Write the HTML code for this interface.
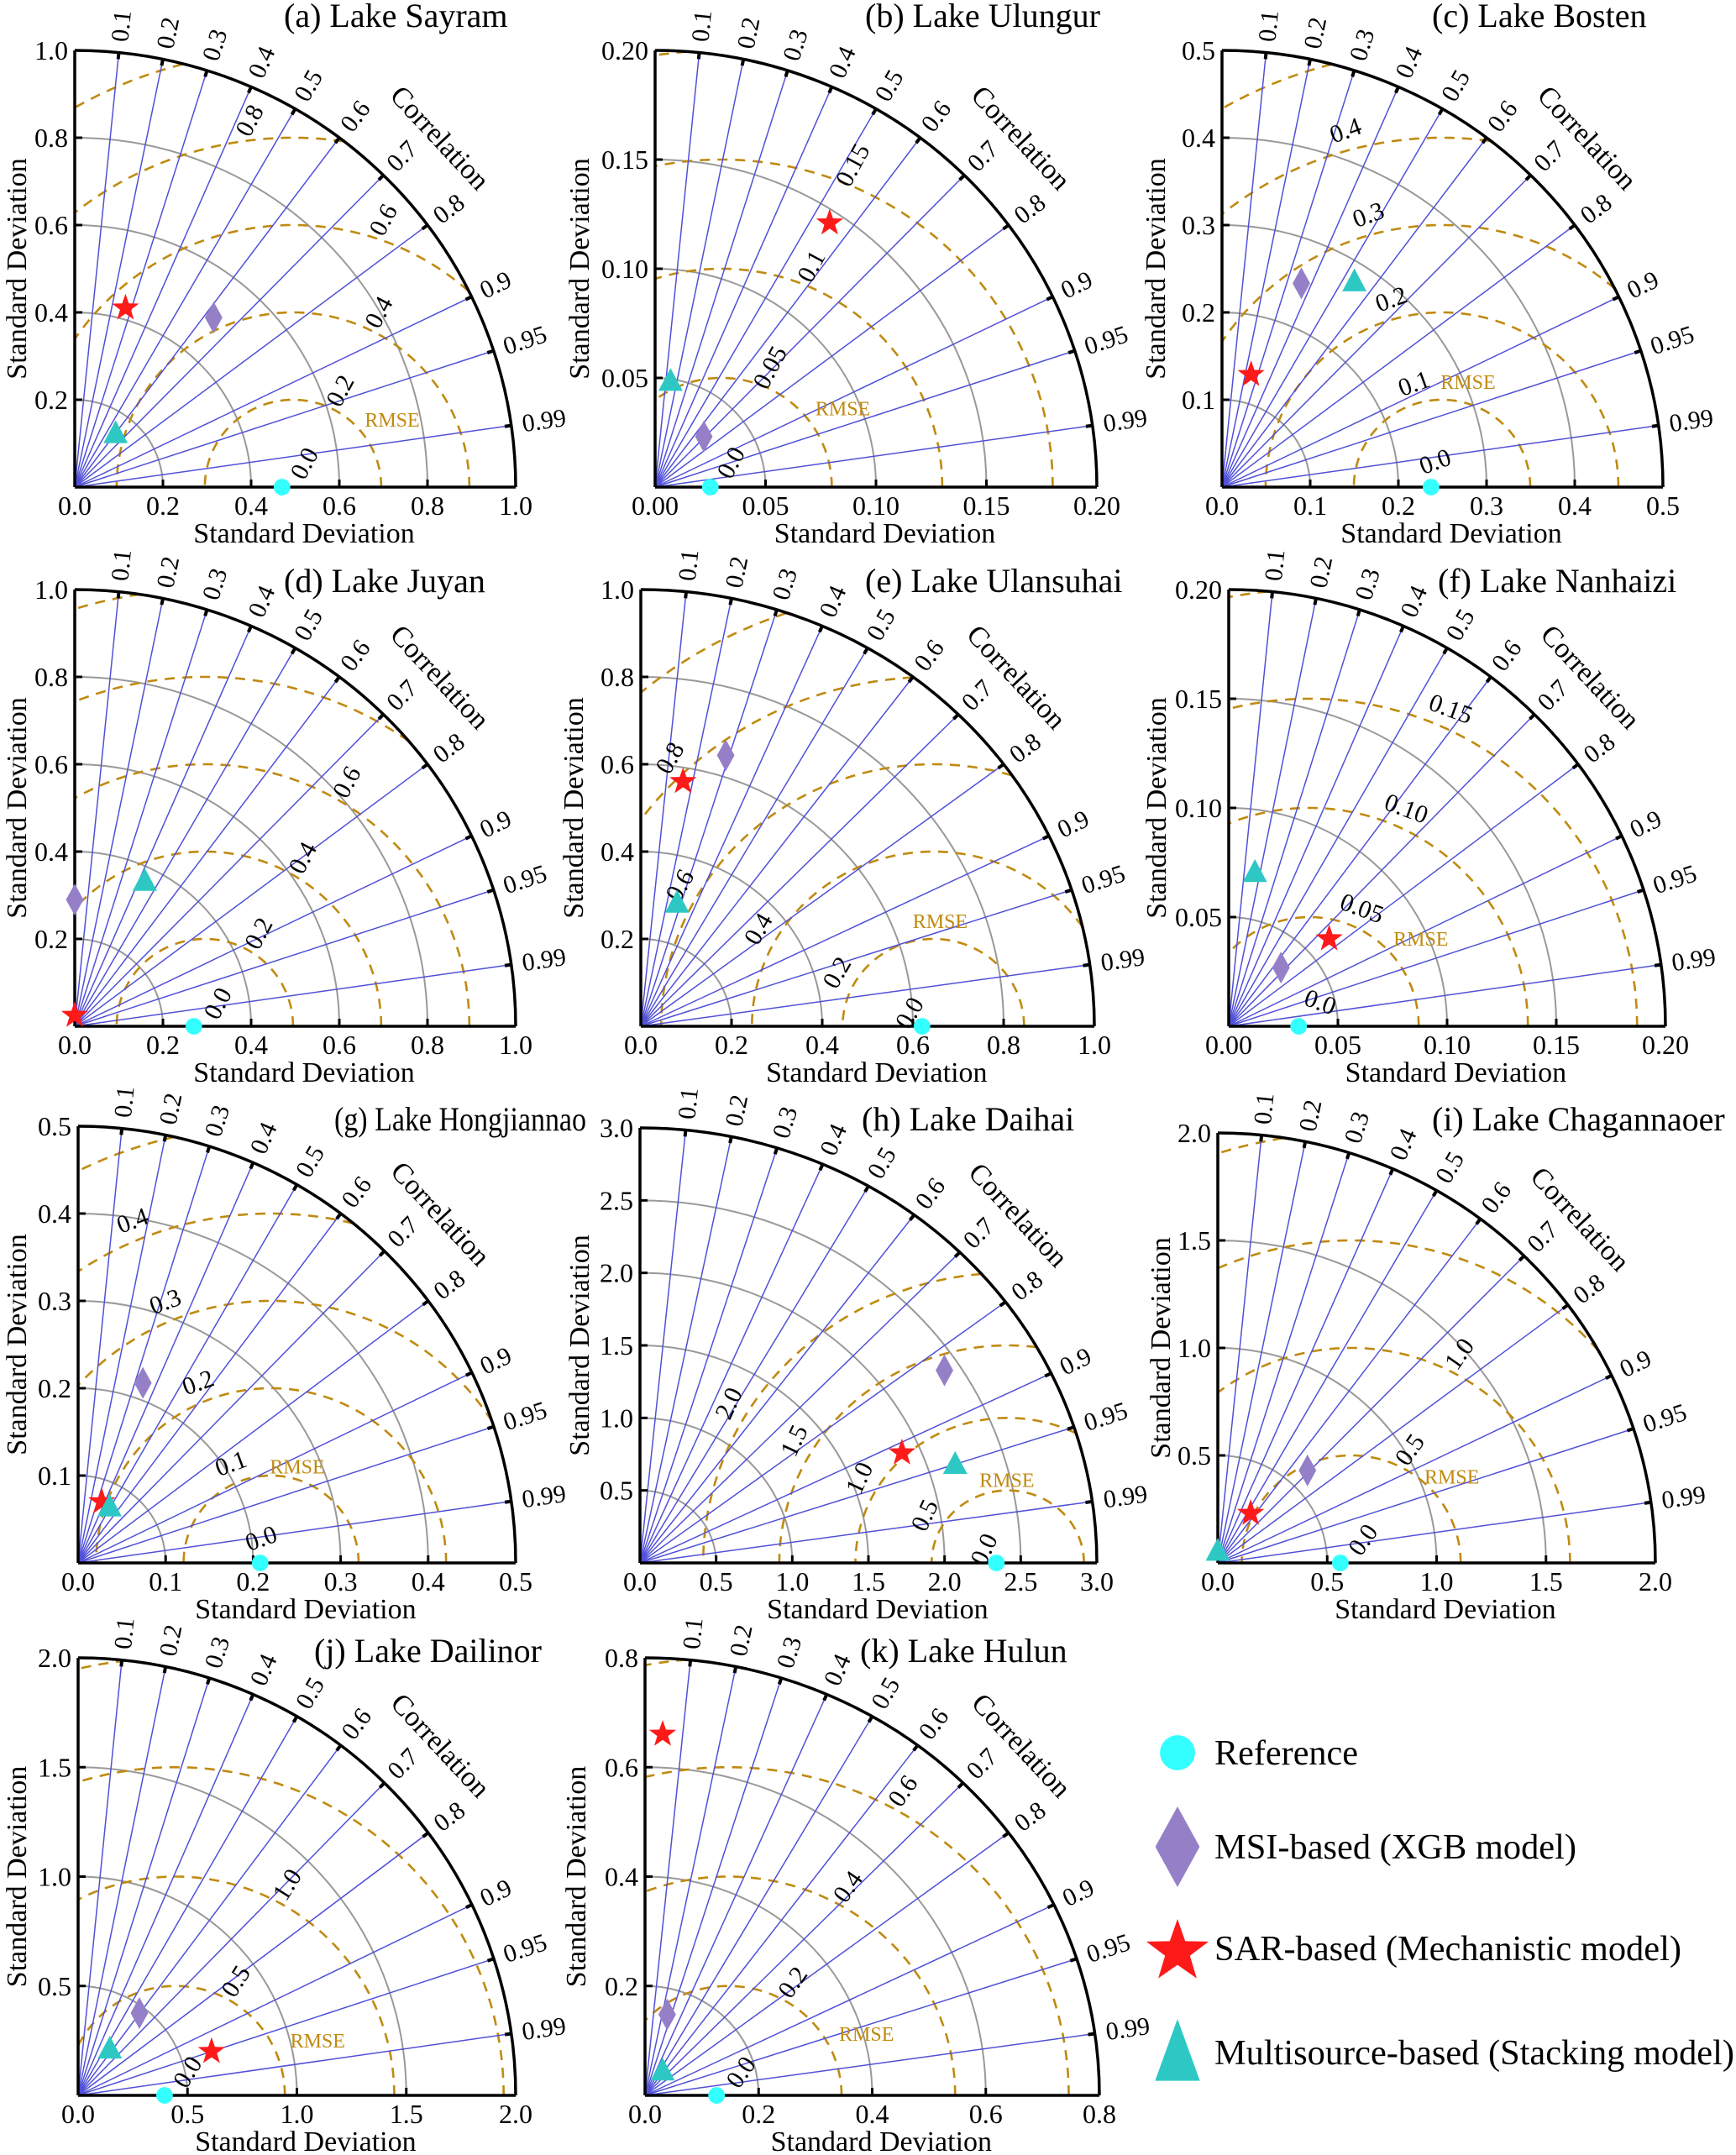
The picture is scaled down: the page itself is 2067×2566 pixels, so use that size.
<!DOCTYPE html>
<html><head><meta charset="utf-8">
<style>
html,body{margin:0;padding:0;background:#fff;}
svg{display:block;font-family:"Liberation Serif",serif;}
</style></head>
<body>
<svg id="fig" width="2067" height="2566" viewBox="0 0 2067 2566" xmlns="http://www.w3.org/2000/svg"></svg>
<script>
// ---- data (per panel) ----
const panelTitles = ["(a) Lake Sayram","(b) Lake Ulungur","(c) Lake Bosten","(d) Lake Juyan","(e) Lake Ulansuhai","(f) Lake Nanhaizi","(g) Lake Hongjiannao","(h) Lake Daihai","(i) Lake Chagannaoer","(j) Lake Dailinor","(k) Lake Hulun"];
const refStd   = [0.47, 0.025, 0.237, 0.27, 0.62, 0.032, 0.208, 2.34, 0.56, 0.395, 0.126];
const msiStd   = [0.50, 0.032, 0.25, 0.29, 0.648, 0.036, 0.219, 2.40, 0.594, 0.469, 0.153];
const msiCorr  = [0.63, 0.69, 0.36, 0.0, 0.289, 0.665, 0.338, 0.833, 0.69, 0.597, 0.255];
const sarStd   = [0.426, 0.1445, 0.133, 0.025, 0.568, 0.061, 0.075, 1.88, 0.275, 0.642, 0.661];
const sarCorr  = [0.27, 0.547, 0.248, 0.0, 0.164, 0.754, 0.36, 0.915, 0.546, 0.95, 0.047];
const stkStd   = [0.152, 0.0485, 0.278, 0.366, 0.291, 0.071, 0.0726, 2.176, 0.05, 0.253, 0.053];
const stkCorr  = [0.61, 0.144, 0.54, 0.434, 0.275, 0.169, 0.496, 0.951, 0.0, 0.573, 0.585];
const axisMax  = [1.0, 0.20, 0.5, 1.0, 1.0, 0.20, 0.5, 3.0, 2.0, 2.0, 0.8];
const tickStep = [0.2, 0.05, 0.1, 0.2, 0.2, 0.05, 0.1, 0.5, 0.5, 0.5, 0.2];
const tickDec  = [1, 2, 1, 1, 1, 2, 1, 1, 1, 1, 1];
const rmseMaxK = [5, 4, 5, 5, 6, 4, 5, 4, 4, 4, 5];
const rmseLabels = [["0.0","0.2","0.4","0.6","0.8"],["0.0","0.05","0.1","0.15"],["0.0","0.1","0.2","0.3","0.4"],["0.0","0.2","0.4","0.6"],["0.0","0.2","0.4","0.6","0.8"],["0.0","0.05","0.10","0.15"],["0.0","0.1","0.2","0.3","0.4"],["0.0","0.5","1.0","1.5","2.0"],["0.0","0.5","1.0"],["0.0","0.5","1.0"],["0.0","0.2","0.4","0.6"]];
const corrTicks = [0.1,0.2,0.3,0.4,0.5,0.6,0.7,0.8,0.9,0.95,0.99];
const legendLabels = ["Reference","MSI-based (XGB model)","SAR-based (Mechanistic model)","Multisource-based (Stacking model)"];

// ---- layout ----
const origins = [[89,580,525,520],[780,580,526,520],[1455,580,525,520],[89,1222,525,520],[763,1222,540,520],[1463,1222,520,520],[93,1861,521,520],[762,1861,544,518],[1450,1861,521,512],[93,2495,521,521],[768,2495,541,521]];
const titleX = [338,1030,1705,338,1030,1712,398,1026,1705,374,1024];
const titleY = [32,32,32,705,705,705,1346,1346,1346,1979,1979];
const titleW = [null,null,null,null,null,null,300,null,null,null,null];
const yTitleOff = [58,79,68,58,69,75,62,61,57,62,71];
const lblAng = [64,68,105,60,150,66,112,149,63,62,61];
const lblRot = [-62,-62,-20,-62,-60,20,-20,-65,-55,-58,-55];
const rmseLblDx = [0.25,0.3,0.084,null,0.04,0.28,0.085,0.023,0.255,0.35,0.33];
const rmseLblDy = [0.154,0.18,0.24,null,0.24,0.2,0.22,0.19,0.2,0.125,0.14];

const NS="http://www.w3.org/2000/svg";
const svg=document.getElementById('fig');
function mk(tag,attrs,parent,txt){const e=document.createElementNS(NS,tag);for(const k in attrs)e.setAttribute(k,attrs[k]);if(txt!==undefined)e.textContent=txt;(parent||svg).appendChild(e);return e;}

const C_REF="#33ffff",C_MSI="#9580c8",C_SAR="#ff1a1a",C_STK="#2ec8c4",C_RM="#c08a10",C_COR="#5050d8";

function marker(g,type,x,y,s,tw){
  let e;
  if(type==="ref"){e=mk('circle',{cx:x,cy:y,r:s*0.55,fill:C_REF},g);}
  else if(type==="msi"){e=mk('polygon',{points:`${x},${y-s} ${x+s*0.55},${y} ${x},${y+s} ${x-s*0.55},${y}`,fill:C_MSI},g);}
  else if(type==="sar"){let p=[];for(let i=0;i<10;i++){const r=i%2?s*0.4:s;const a=-Math.PI/2+i*Math.PI/5;p.push((x+r*Math.cos(a)).toFixed(1)+","+(y+r*Math.sin(a)).toFixed(1));}e=mk('polygon',{points:p.join(' '),fill:C_SAR},g);}
  else {const w=tw||0.85;e=mk('polygon',{points:`${x},${y-s} ${x+s*w},${y+s*0.6} ${x-s*w},${y+s*0.6}`,fill:C_STK},g);}
  return e;
}

panelTitles.forEach((title,i)=>{
  const [ox,oy,rx,ry]=origins[i];
  const M=axisMax[i], ref=refStd[i];
  const cen=ref+0.025*M;
  const X=v=>ox+v/M*rx, Y=v=>oy-v/M*ry;
  const P=(x,y)=>[X(x),Y(y)];
  const g=mk('g',{});
  
  
  const nT=Math.round(M/tickStep[i]);
  for(let k=1;k<nT;k++){
    const r=k*tickStep[i];
    const a=mk('path',{d:`M${X(r)},${oy} A${r/M*rx},${r/M*ry} 0 0 0 ${ox},${Y(r)}`,fill:'none',stroke:'#999',"stroke-width":2},g);
    
    
  }
  const rstep=tickStep[i];
  for(let k=1;k<=rmseMaxK[i];k++){
    const r=k*rstep;let pts=[];let segs=[];
    for(let t=0;t<=720;t++){
      const th=Math.PI*t/720;const x=cen+r*Math.cos(th),y=r*Math.sin(th);
      if(x>=0&&Math.hypot(x,y)<=M){pts.push(P(x,y).map(v=>v.toFixed(1)).join(','));}
      else if(pts.length){segs.push(pts);pts=[];}
    }
    if(pts.length)segs.push(pts);
    segs.forEach(s=>{const l=mk('polyline',{points:s.join(' '),fill:'none',stroke:C_RM,"stroke-width":2.6,"stroke-dasharray":"12,9"},g);
      
      });
  }
  corrTicks.forEach(c=>{
    const th=Math.acos(c);
    const l=mk('line',{x1:ox,y1:oy,x2:X(M*Math.cos(th)),y2:Y(M*Math.sin(th)),stroke:C_COR,"stroke-width":1.5},g);
    
    
    mk('line',{x1:X(M*Math.cos(th)),y1:Y(M*Math.sin(th)),x2:X(0.985*M*Math.cos(th)),y2:Y(0.985*M*Math.sin(th)),stroke:'#000',"stroke-width":4},g);
    const lx=X(1.025*M*Math.cos(th)),ly=Y(1.025*M*Math.sin(th));
    const deg=th*180/Math.PI;
    const t=mk('text',{x:lx,y:ly,"font-size":30,transform:`rotate(${-deg} ${lx} ${ly})`,"dominant-baseline":"central"},g,String(c));
    
    
  });
  const oa=mk('path',{d:`M${X(M)},${oy} A${rx},${ry} 0 0 0 ${ox},${Y(M)}`,fill:'none',stroke:'#000',"stroke-width":3.5},g);
  
  
  mk('line',{x1:ox,y1:oy,x2:X(M),y2:oy,stroke:'#000',"stroke-width":3.5},g);
  mk('line',{x1:ox,y1:oy,x2:ox,y2:Y(M),stroke:'#000',"stroke-width":3.5},g);
  for(let k=0;k<=nT;k++){
    const v=k*tickStep[i];const s=v.toFixed(tickDec[i]);
    mk('line',{x1:X(v),y1:oy,x2:X(v),y2:oy-9,stroke:'#000',"stroke-width":3},g);
    const tx=mk('text',{x:X(v),y:oy+33,"font-size":32,"text-anchor":"middle"},g,s);
    
    
    if(k>0){
      mk('line',{x1:ox,y1:Y(v),x2:ox+9,y2:Y(v),stroke:'#000',"stroke-width":3},g);
      const ty=mk('text',{x:ox-8,y:Y(v)+11,"font-size":32,"text-anchor":"end"},g,s);
      
      
    }
  }
  const xt=mk('text',{x:ox+rx*0.52,y:oy+66,"font-size":34,"text-anchor":"middle"},g,"Standard Deviation");
  
  
  const yx=ox-yTitleOff[i],yy=oy-ry*0.5;
  const yt=mk('text',{x:yx,y:yy,"font-size":34,"text-anchor":"middle",transform:`rotate(-90 ${yx} ${yy})`},g,"Standard Deviation");
  
  
  const cth=44*Math.PI/180, cx=ox+1.15*rx*Math.cos(cth), cy=oy-1.15*ry*Math.sin(cth);
  const ct=mk('text',{x:cx,y:cy,"font-size":34,"text-anchor":"middle","dominant-baseline":"central",transform:`rotate(47 ${cx} ${cy})`},g,"Correlation");
  
  
  rmseLabels[i].forEach((lb,k)=>{
    const r=k*rstep+0.045*M; const a0=lblAng[i]*Math.PI/180;
    const ok=a=>{const x=cen+r*Math.cos(a),y=r*Math.sin(a);return Math.hypot(x,y)<=0.93*M&&x>=0.06*M&&y>=0;};
    let a=a0;
    for(let d=0;d<300;d++){
      if(ok(a0+d*0.01)){a=a0+d*0.01;break;}
      if(ok(a0-d*0.01)){a=a0-d*0.01;break;}
    }
    let x=cen+r*Math.cos(a),y=r*Math.sin(a);
    if(k===0){x=cen+0.06*M*Math.cos(a0);y=0.06*M*Math.abs(Math.sin(a0));}
    const px=X(x),py=Y(y);
    const t=mk('text',{x:px,y:py,"font-size":30,"text-anchor":"middle","dominant-baseline":"central",transform:`rotate(${lblRot[i]} ${px} ${py})`},g,lb);
    
    
  });
  if(rmseLblDx[i]!==null){
    const rl=mk('text',{x:X(ref+rmseLblDx[i]*M),y:Y(rmseLblDy[i]*M)+8,"font-size":24,fill:C_RM,"text-anchor":"middle"},g,"RMSE");
    
    
  }
  const ta={x:titleX[i],y:titleY[i],"font-size":40};
  if(titleW[i]){ta.textLength=titleW[i];ta.lengthAdjust="spacingAndGlyphs";}
  const tt=mk('text',ta,g,title);
  
  
  const pos=(s,c)=>P(s*c,s*Math.sqrt(Math.max(0,1-c*c)));
  let p=pos(refStd[i],1);
  let m=marker(g,"ref",p[0],p[1],18);
  
  
  p=pos(msiStd[i],msiCorr[i]);
  m=marker(g,"msi",p[0],p[1],19);
  
  
  p=pos(sarStd[i],sarCorr[i]);
  m=marker(g,"sar",p[0],p[1],17);
  
  
  p=pos(stkStd[i],stkCorr[i]);
  m=marker(g,"stk",p[0],p[1],17);
  
  
});

const lg=mk('g',{});


const legY=[2087,2199,2320,2444], legT=["ref","msi","sar","stk"], legS=[38,48,39,46], legW=[171,431,556,619];
legendLabels.forEach((lb,k)=>{
  const e=marker(lg,legT[k],1402,legY[k]+(k===3?6:(k===2?4:0)),legS[k],0.58);
  
  
  const t=mk('text',{x:1446,y:legY[k]+14,"font-size":42,textLength:legW[k],lengthAdjust:"spacingAndGlyphs"},lg,lb);
  
  
});
</script>
</body></html>
